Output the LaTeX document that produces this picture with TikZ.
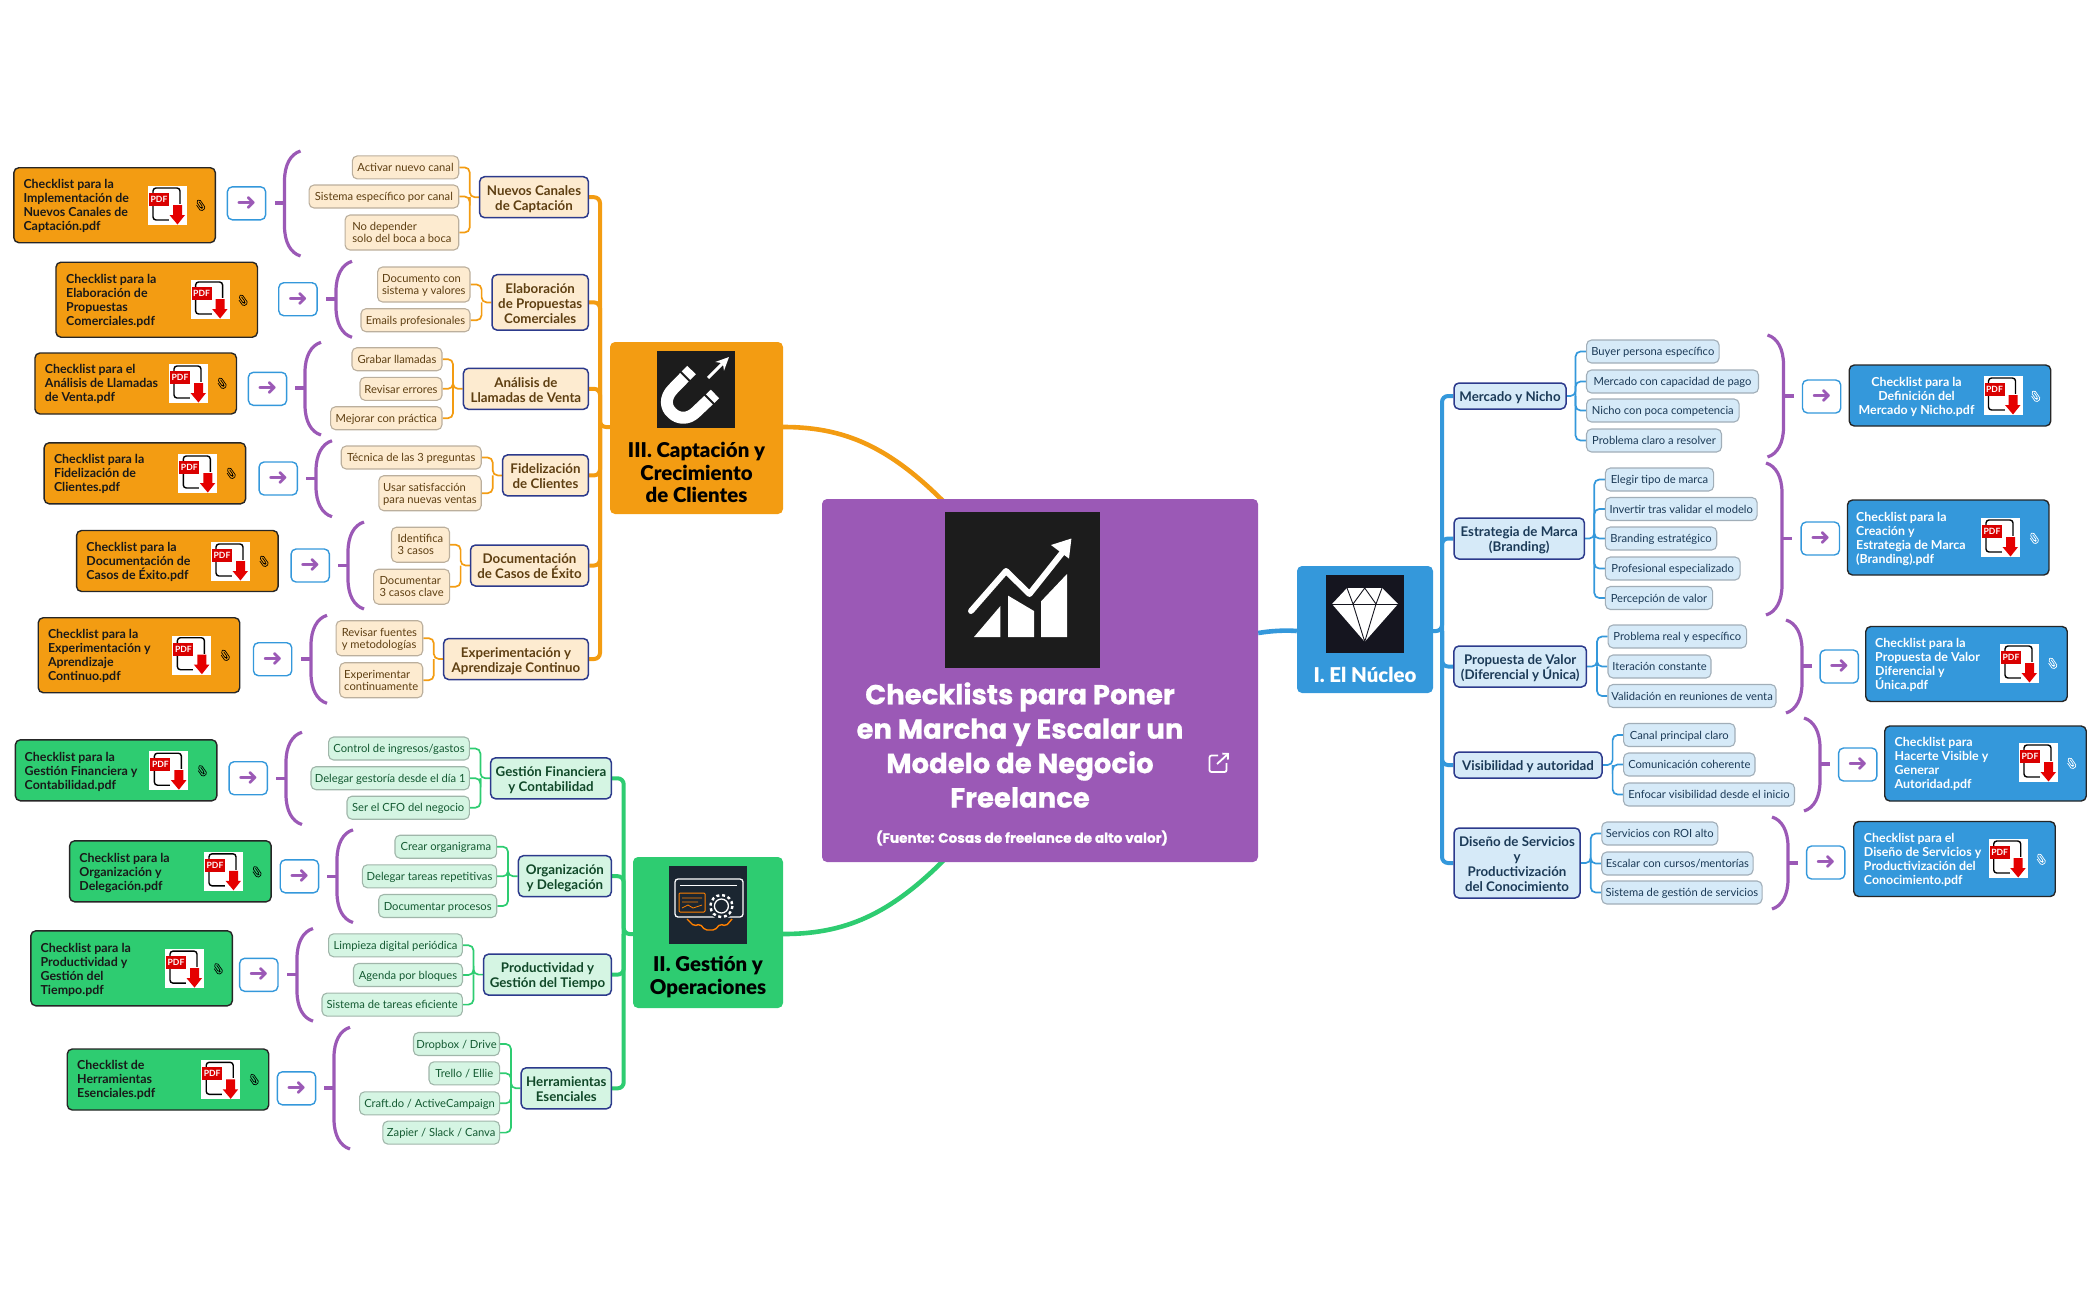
\documentclass[tikz,border=0pt]{standalone}
\usepackage{fontspec}
\setmainfont{Lato}
\newfontfamily\titlefont{Poppins}[BoldFeatures={FakeBold=0.7}]
\newfontfamily\heavyfont{Lato Black}
\newfontfamily\symfont{DejaVu Sans}
\usetikzlibrary{backgrounds,arrows.meta}
\definecolor{flatorange}{HTML}{F39C12}
\definecolor{flatgreen}{HTML}{2ECC71}
\definecolor{flatblue}{HTML}{3498DB}
\definecolor{flatpurple}{HTML}{9B59B6}
\definecolor{paleorange}{HTML}{FDEBD0}
\definecolor{palegreen}{HTML}{D5F5E3}
\definecolor{paleblue}{HTML}{D6EAF8}
\definecolor{darkicon}{HTML}{1C1C1C}
\definecolor{gearicon}{HTML}{1B2631}
\definecolor{gemicon}{HTML}{15151F}
\definecolor{navyline}{HTML}{2C3A8C}
\definecolor{otext}{HTML}{5E3F12}
\definecolor{gtext}{HTML}{145A32}
\definecolor{btext}{HTML}{1B3A57}
\tikzset{
	x=1pt,y=-1pt,
	leaf/.style={draw,rounded corners=5,line width=1.1,minimum height=23,inner sep=1,align=left,text height=11.5,text depth=3,font=\fontsize{11.2}{12}\selectfont},
	twoline/.style={minimum height=35,text height=23.5},
	oleaf/.style={leaf,fill=paleorange,draw=black!22!paleorange!85!gray,text=otext},
	gleaf/.style={leaf,fill=palegreen,draw=black!22!palegreen!85!gray,text=gtext},
	bleaf/.style={leaf,fill=paleblue,draw=black!22!paleblue!85!gray,text=btext},
	parent/.style={draw=navyline,rounded corners=5,line width=1.5,minimum height=41,inner sep=1,align=center,text height=30,text depth=3.5,font=\fontsize{13.3}{15}\selectfont\bfseries},
	onode/.style={parent,fill=paleorange,text=otext},
	gnode/.style={parent,fill=palegreen,text=gtext!80!black},
	bnode/.style={parent,fill=paleblue,text=btext},
	chkbox/.style={draw=black!85,rounded corners=5,line width=1.4,minimum width=201.5},
	chktext/.style={anchor=west,inner sep=0,align=left,yshift=-1pt,text=black!90,font=\fontsize{12.4}{14}\selectfont\bfseries},
	btn/.style={draw=flatblue,fill=white,rounded corners=5,line width=1.4,minimum width=38.3,minimum height=33,inner sep=0,text=flatpurple,font=\symfont\fontsize{24}{24}\selectfont},
	section/.style={rounded corners=5,inner sep=0},
	sectext/.style={inner sep=0,align=center,font=\heavyfont\fontsize{20.4}{22.6}\selectfont},
	olink/.style={draw=flatorange,line width=1.7,rounded corners=5},
	glink/.style={draw=flatgreen,line width=1.7,rounded corners=5},
	blink/.style={draw=flatblue,line width=1.7,rounded corners=5},
	otrunk/.style={draw=flatorange,line width=4,rounded corners=6},
	gtrunk/.style={draw=flatgreen,line width=4,rounded corners=6},
	btrunk/.style={draw=flatblue,line width=4,rounded corners=6},
	bracemark/.style={draw=flatpurple,line width=3.2},
	pics/pdficon/.style={code={
		\fill[white] (0,0) rectangle (39,39);
		\draw[black,line width=1.4,rounded corners=3] (5,2) -- (32,2) -- (32,34) -- (5,34) -- cycle;
		\fill[red!85!black] (1,7) rectangle (21,20);
		\node[inner sep=0,text=white,font=\fontsize{8.6}{9}\selectfont\bfseries] (-t) at (11,13.5) {PDF};
		\fill[white] (21,18) rectangle (38,39);
		\fill[red!90!black] (25,19) -- (34,19) -- (34,29) -- (37,29) -- (29.5,38.5) -- (21.5,29) -- (25,29) -- cycle;
	}},
	pics/clipmark/.style={code={
		\draw[pic actions,line width=.7,rounded corners=1.6,rotate=35,scale=1.25] (.9,-2.5) -- (.9,3) -- (-.9,3) -- (-.9,-4) -- (2.3,-4) -- (2.3,4.6) -- (-2.3,4.6) -- (-2.3,-1.5);
	}},
}
\newcommand{\bracel}[4]{%
	\draw[bracemark] (#1,#2) .. controls (#1-10,#2+3) and (#1-16,#2+14) .. (#1-16,#2+30) -- (#1-16,#3-30) .. controls (#1-16,#3-14) and (#1-10,#3-3) .. (#1,#3);
	\draw[bracemark] (#1-16,#4) -- (#1-26,#4);}
\newcommand{\bracer}[4]{%
	\draw[bracemark] (#1,#2) .. controls (#1+10,#2+3) and (#1+16,#2+14) .. (#1+16,#2+30) -- (#1+16,#3-30) .. controls (#1+16,#3-14) and (#1+10,#3-3) .. (#1,#3);
	\draw[bracemark] (#1+16,#4) -- (#1+26,#4);}
\begin{document}
\begin{tikzpicture}
	\useasboundingbox (0,0) rectangle (2100,1299);
	% centre
	\node[section,fill=flatpurple,minimum width=436,minimum height=363] (root) at (1040,680.5) {};
	\fill[darkicon] (945,512) rectangle (1100,667.5);
	\draw[white,line width=6,line cap=round,line join=round] (971,611) -- (1006,571) -- (1029.5,594) -- (1062,553);
	\fill[white] (1071.4,538.5) -- (1051,545) -- (1069,558.6) -- cycle;
	\fill[white] (974,637) -- (1000.4,637) -- (1000.4,606) -- cycle;
	\fill[white] (1008,637) -- (1034,637) -- (1034,611) -- (1008,595.6) -- cycle;
	\fill[white] (1041,637) -- (1067,637) -- (1067,574) -- (1041,601.4) -- cycle;
	\node[inner sep=0,align=center,text=white,font=\titlefont\fontsize{27.5}{34.4}\selectfont\bfseries] (title) at (1020,745) {Checklists para Poner\\en Marcha y Escalar un\\Modelo de Negocio\\Freelance};
	\node[inner sep=0,text=white,font=\titlefont\fontsize{13.6}{16}\selectfont\bfseries] (source) at (1022,838) {(Fuente: Cosas de freelance de alto valor)};
	\draw[white,line width=1.8,rounded corners=2] (1218,755.5) -- (1209.5,755.5) -- (1209.5,772) -- (1226.5,772) -- (1226.5,763);
	\draw[white,line width=1.8,-{Straight Barb[length=4,width=8]}] (1217,764) -- (1229,753);
	% section III
	\node[section,fill=flatorange,minimum width=173,minimum height=172] (sec3) at (696.5,428) {};
	\fill[darkicon] (657,350.5) rectangle (735,428);
	\draw[white,line width=12,line join=round] (691.5,370) -- (673,389) .. controls (664,398) and (666,408) .. (672,413) .. controls (678,419) and (688,420) .. (696,412) -- (715,394);
	\draw[darkicon,line width=2] (679.7,371) -- (691.7,383) (703,393) -- (715,405);
	\draw[white,line width=3,-{Stealth[length=13,width=12]}] (708,378) -- (729,357);
	\node[sectext] (sec3t) at (696.5,472.5) {III. Captación y\\Crecimiento\\de Clientes};
	% section II
	\node[section,fill=flatgreen,minimum width=150,minimum height=151] (sec2) at (708,932.5) {};
	\fill[gearicon] (669,866) rectangle (747,944);
	\draw[white,line width=1.3,rounded corners=3] (675,879) rectangle (743,917);
	\draw[white,line width=.9] (680,885) -- (737,885);
	\draw[orange,line width=1,rounded corners=1] (679,893) rectangle (705,912);
	\draw[orange,line width=.8] (682,898) -- (702,898) (682,902) -- (698,902) (682,908) -- (688,905) -- (693,908) -- (702,905);
	\fill[gearicon] (721.4,906) circle (13.5);
	\draw[white,line width=2.4,dash pattern=on 3 off 2.8] (721.4,906) circle (11);
	\draw[white,line width=1.3] (721.4,906) circle (7);
	\draw[orange,line width=1.4,rounded corners=2] (687,919) -- (694,926) -- (700,924) -- (705,930) -- (715,930) -- (720,924) -- (726,926) -- (732,919);
	\node[sectext] (sec2t) at (708,977) {II. Gestión y\\Operaciones};
	% section I
	\node[section,fill=flatblue,minimum width=136,minimum height=127] (sec1) at (1365,629.5) {};
	\fill[gemicon] (1326,575) rectangle (1404,653);
	\fill[white] (1347,588) -- (1382,588) -- (1398,604) -- (1364.7,641.7) -- (1332,604) -- cycle;
	\draw[gemicon,line width=.9] (1332,604.5) -- (1398,604.5) (1347,588) -- (1353,604) -- (1364.7,641.7) -- (1376,604) -- (1382,588) (1353,604) -- (1364.7,588) -- (1376,604);
	\node[sectext,text=white] (sec1t) at (1365,675) {I. El Núcleo};
	% orange group
	\node[onode,minimum width=108.8] (on1) at (534,197.2) {Nuevos Canales\\de Captación};
	\node[onode,minimum width=96.4,minimum height=55.4,text height=45] (on2) at (540.2,302.4) {Elaboración\\de Propuestas\\Comerciales};
	\node[onode,minimum width=125] (on3) at (525.9,388.8) {Análisis de\\Llamadas de Venta};
	\node[onode,minimum width=85.8] (on4) at (545.5,475.4) {Fidelización\\de Clientes};
	\node[onode,minimum width=118] (on5) at (529.5,565.5) {Documentación\\de Casos de Éxito};
	\node[onode,minimum width=144.8] (on6) at (516,659) {Experimentación y\\Aprendizaje Continuo};
	\node[oleaf,minimum width=106.4] (oa1) at (405.5,167.4) {Activar nuevo canal};
	\node[oleaf,minimum width=149.7] (oa2) at (383.9,196.5) {Sistema específico por canal};
	\node[oleaf,twoline,minimum width=113.7] (oa3) at (401.9,232.5) {No depender\\solo del boca a boca};
	\node[oleaf,twoline,minimum width=92.4] (ob1) at (423.8,284.5) {Documento con\\sistema y valores};
	\node[oleaf,minimum width=109] (ob2) at (415.5,320.2) {Emails profesionales};
	\node[oleaf,minimum width=90] (oc1) at (397,359.2) {Grabar llamadas};
	\node[oleaf,minimum width=82] (oc2) at (401,388.8) {Revisar errores};
	\node[oleaf,minimum width=111.4] (oc3) at (386.3,418.2) {Mejorar con práctica};
	\node[oleaf,minimum width=140] (od1) at (411.2,457.5) {Técnica de las 3 preguntas};
	\node[oleaf,twoline,minimum width=102.4] (od2) at (430,493.2) {Usar satisfacción\\para nuevas ventas};
	\node[oleaf,twoline,minimum width=58] (oe1) at (420.5,544.7) {Identifica\\3 casos};
	\node[oleaf,twoline,minimum width=76] (oe2) at (411.6,586.7) {Documentar\\3 casos clave};
	\node[oleaf,twoline,minimum width=86.7] (of1) at (379.4,638.2) {Revisar fuentes\\y metodologías};
	\node[oleaf,twoline,minimum width=83] (of2) at (381.2,680.2) {Experimentar\\continuamente};
	\coordinate (obus1) at (469.7,197.2);
	\coordinate (obus2) at (481.6,302.4);
	\coordinate (obus3) at (453,388.8);
	\coordinate (obus4) at (492.7,475.4);
	\coordinate (obus5) at (460.6,565.5);
	\coordinate (obus6) at (433.8,659);
	\coordinate (otr) at (600,427);
	\bracel{300.5}{151}{256}{203}
	\bracel{352}{261.3}{337.3}{299}
	\bracel{321}{342.3}{435}{388}
	\bracel{332}{440.7}{516.7}{478.3}
	\bracel{364}{522}{609}{565.7}
	\bracel{327}{615.3}{703.3}{659}
	\node[btn] (obtn1) at (246.5,203.3) {➜};
	\node[btn] (obtn2) at (297.9,299.2) {➜};
	\node[btn] (obtn3) at (267.5,388.8) {➜};
	\node[btn] (obtn4) at (278.2,478.5) {➜};
	\node[btn] (obtn5) at (310.2,565.5) {➜};
	\node[btn] (obtn6) at (272.6,659.2) {➜};
	\node[chkbox,fill=flatorange,minimum height=75] (ochk1) at (114.6,205.2) {};
	\node[chkbox,fill=flatorange,minimum height=75] (ochk2) at (156.7,299.7) {};
	\node[chkbox,fill=flatorange,minimum height=61] (ochk3) at (135.7,383.5) {};
	\node[chkbox,fill=flatorange,minimum height=61] (ochk4) at (144.9,473.3) {};
	\node[chkbox,fill=flatorange,minimum height=61] (ochk5) at (177.3,561) {};
	\node[chkbox,fill=flatorange,minimum height=75] (ochk6) at (139,655.2) {};
	\node[chktext] (otx1) at (23.3,205) {Checklist para la\\Implementación de\\Nuevos Canales de\\Captación.pdf};
	\node[chktext] (otx2) at (66,300) {Checklist para la\\Elaboración de\\Propuestas\\Comerciales.pdf};
	\node[chktext] (otx3) at (44.7,383) {Checklist para el\\Análisis de Llamadas\\de Venta.pdf};
	\node[chktext] (otx4) at (53.8,473) {Checklist para la\\Fidelización de\\Clientes.pdf};
	\node[chktext] (otx5) at (86.2,561.3) {Checklist para la\\Documentación de\\Casos de Éxito.pdf};
	\node[chktext] (otx6) at (47.8,655.3) {Checklist para la\\Experimentación y\\Aprendizaje\\Continuo.pdf};
	\pic (oi1) at (148,186) {pdficon};
	\pic (oi2) at (190.6,280) {pdficon};
	\pic (oi3) at (169,364) {pdficon};
	\pic (oi4) at (178.3,454) {pdficon};
	\pic (oi5) at (211,542) {pdficon};
	\pic (oi6) at (172.4,635.7) {pdficon};
	\pic at (200,205) {clipmark};
	\pic at (242.4,300) {clipmark};
	\pic at (221.4,383) {clipmark};
	\pic at (230.5,473) {clipmark};
	\pic at (263.3,561) {clipmark};
	\pic at (224.6,655) {clipmark};
	% green group
	\node[gnode,minimum width=120.8] (gn1) at (551,778.3) {Gestión Financiera\\y Contabilidad};
	\node[gnode,minimum width=93] (gn2) at (564.9,876.2) {Organización\\y Delegación};
	\node[gnode,minimum width=127.7] (gn3) at (547.5,974.6) {Productividad y\\Gestión del Tiempo};
	\node[gnode,minimum width=90.2] (gn4) at (566.3,1088.3) {Herramientas\\Esenciales};
	\node[gleaf,minimum width=140.8] (ga1) at (399,748.5) {Control de ingresos/gastos};
	\node[gleaf,minimum width=158.4] (ga2) at (390.2,778.2) {Delegar gestoría desde el día 1};
	\node[gleaf,minimum width=122.4] (ga3) at (408.2,807.7) {Ser el CFO del negocio};
	\node[gleaf,minimum width=101.7] (gb1) at (445.8,846.7) {Crear organigrama};
	\node[gleaf,minimum width=134.3] (gb2) at (429.5,876.3) {Delegar tareas repetitivas};
	\node[gleaf,minimum width=118] (gb3) at (437.7,906) {Documentar procesos};
	\node[gleaf,minimum width=133.8] (gc1) at (395.5,945.3) {Limpieza digital periódica};
	\node[gleaf,minimum width=109] (gc2) at (408,975) {Agenda por bloques};
	\node[gleaf,minimum width=140.4] (gc3) at (392.2,1004.6) {Sistema de tareas eficiente};
	\node[gleaf,minimum width=86] (gd1) at (456.5,1044) {Dropbox / Drive};
	\node[gleaf,minimum width=70.6] (gd2) at (464.3,1073.3) {Trello / Ellie};
	\node[gleaf,minimum width=140] (gd3) at (429.6,1103.3) {Craft.do / ActiveCampaign};
	\node[gleaf,minimum width=116.7] (gd4) at (441.2,1132.6) {Zapier / Slack / Canva};
	\coordinate (gbus1) at (480.4,778.3);
	\coordinate (gbus2) at (508,876.2);
	\coordinate (gbus3) at (473.5,974.6);
	\coordinate (gbus4) at (511,1088.3);
	\coordinate (gtr) at (623.7,934);
	\bracel{302}{732.2}{824.5}{778.2}
	\bracel{353}{829.8}{922.5}{876.2}
	\bracel{313}{928.5}{1021.1}{974.5}
	\bracel{350}{1027.3}{1149}{1088}
	\node[btn] (gbtn1) at (248.2,778.2) {➜};
	\node[btn] (gbtn2) at (299.4,876.3) {➜};
	\node[btn] (gbtn3) at (258.8,974.8) {➜};
	\node[btn] (gbtn4) at (296.5,1088.3) {➜};
	\node[chkbox,fill=flatgreen,minimum height=61] (gchk1) at (116.1,770.3) {};
	\node[chkbox,fill=flatgreen,minimum height=61] (gchk2) at (170.4,871.3) {};
	\node[chkbox,fill=flatgreen,minimum height=75] (gchk3) at (131.6,968.3) {};
	\node[chkbox,fill=flatgreen,minimum height=61] (gchk4) at (168,1079.5) {};
	\node[chktext] (gtx1) at (24.5,770.5) {Checklist para la\\Gestión Financiera y\\Contabilidad.pdf};
	\node[chktext] (gtx2) at (79.2,871.5) {Checklist para la\\Organización y\\Delegación.pdf};
	\node[chktext] (gtx3) at (40.4,968.5) {Checklist para la\\Productividad y\\Gestión del\\Tiempo.pdf};
	\node[chktext] (gtx4) at (77,1079.3) {Checklist de\\Herramientas\\Esenciales.pdf};
	\pic (gi1) at (149.4,751.2) {pdficon};
	\pic (gi2) at (204,851.8) {pdficon};
	\pic (gi3) at (165,949.1) {pdficon};
	\pic (gi4) at (201.2,1060.3) {pdficon};
	\pic at (201.6,770.5) {clipmark};
	\pic at (256.3,871.5) {clipmark};
	\pic at (217.6,968.5) {clipmark};
	\pic at (253.5,1079.3) {clipmark};
	% blue group
	\node[bnode,minimum width=112,minimum height=26,text height=15] (bn1) at (1510,396) {Mercado y Nicho};
	\node[bnode,minimum width=130.4] (bn2) at (1519.2,538.5) {Estrategia de Marca\\(Branding)};
	\node[bnode,minimum width=132.5] (bn3) at (1520.2,666.5) {Propuesta de Valor\\(Diferencial y Única)};
	\node[bnode,minimum width=148,minimum height=26,text height=15] (bn4) at (1528,765) {Visibilidad y autoridad};
	\node[bnode,minimum width=126,minimum height=70,text height=60] (bn5) at (1517,863) {Diseño de Servicios\\y\\Productivización\\del Conocimiento};
	\node[bleaf,minimum width=132.5] (ba1) at (1652.8,351.5) {Buyer persona específico};
	\node[bleaf,minimum width=172] (ba2) at (1672.5,381.5) {Mercado con capacidad de pago};
	\node[bleaf,minimum width=152.5] (ba3) at (1662.8,410.5) {Nicho con poca competencia};
	\node[bleaf,minimum width=135] (ba4) at (1654,440.5) {Problema claro a resolver};
	\node[bleaf,minimum width=108.3] (bb1) at (1659.5,479.5) {Elegir tipo de marca};
	\node[bleaf,minimum width=151.7] (bb2) at (1681.2,509) {Invertir tras validar el modelo};
	\node[bleaf,minimum width=111.4] (bb3) at (1661,538.5) {Branding estratégico};
	\node[bleaf,minimum width=134.7] (bb4) at (1672.7,568.5) {Profesional especializado};
	\node[bleaf,minimum width=107.2] (bb5) at (1659,598) {Percepción de valor};
	\node[bleaf,minimum width=138.5] (bc1) at (1677.3,636.5) {Problema real y específico};
	\node[bleaf,minimum width=103] (bc2) at (1659.5,666.5) {Iteración constante};
	\node[bleaf,minimum width=168] (bc3) at (1692,696) {Validación en reuniones de venta};
	\node[bleaf,minimum width=111.4] (bd1) at (1679.3,735) {Canal principal claro};
	\node[bleaf,minimum width=131.4] (bd2) at (1689.3,764.5) {Comunicación coherente};
	\node[bleaf,minimum width=171] (bd3) at (1709,794.5) {Enfocar visibilidad desde el inicio};
	\node[bleaf,minimum width=116] (be1) at (1659.8,833.5) {Servicios con ROI alto};
	\node[bleaf,minimum width=151.3] (be2) at (1677.4,863.5) {Escalar con cursos/mentorías};
	\node[bleaf,minimum width=160.3] (be3) at (1681.9,892.5) {Sistema de gestión de servicios};
	\coordinate (bbus1) at (1575.5,396);
	\coordinate (bbus2) at (1594.3,538.5);
	\coordinate (bbus3) at (1597,666.5);
	\coordinate (bbus4) at (1612.6,765);
	\coordinate (bbus5) at (1590.7,863);
	\coordinate (btr) at (1442,631);
	\bracer{1767.5}{335}{457}{396}
	\bracer{1766}{463}{615}{538.7}
	\bracer{1786}{620}{713}{666}
	\bracer{1804}{718}{811}{764}
	\bracer{1772}{817}{909}{863}
	\node[btn] (bbtn1) at (1821.6,396.5) {➜};
	\node[btn] (bbtn2) at (1820.3,538.5) {➜};
	\node[btn] (bbtn3) at (1839.2,666.5) {➜};
	\node[btn] (bbtn4) at (1857.7,764.5) {➜};
	\node[btn] (bbtn5) at (1825.7,862.5) {➜};
	\node[chkbox,fill=flatblue,minimum height=61] (bchk1) at (1950,395.5) {};
	\node[chkbox,fill=flatblue,minimum height=75] (bchk2) at (1948.2,537.5) {};
	\node[chkbox,fill=flatblue,minimum height=75] (bchk3) at (1966.5,664) {};
	\node[chkbox,fill=flatblue,minimum height=75] (bchk4) at (1985.5,763.5) {};
	\node[chkbox,fill=flatblue,minimum height=75] (bchk5) at (1954.5,859) {};
	\node[chktext,text=white,align=center,anchor=center] (btx1) at (1916.5,395.5) {Checklist para la\\Definición del\\Mercado y Nicho.pdf};
	\node[chktext,text=white] (btx2) at (1856,538) {Checklist para la\\Creación y\\Estrategia de Marca\\(Branding).pdf};
	\node[chktext,text=white] (btx3) at (1875,664) {Checklist para la\\Propuesta de Valor\\Diferencial y\\Única.pdf};
	\node[chktext,text=white] (btx4) at (1894.5,763) {Checklist para\\Hacerte Visible y\\Generar\\Autoridad.pdf};
	\node[chktext,text=white] (btx5) at (1863.7,859) {Checklist para el\\Diseño de Servicios y\\Productivización del\\Conocimiento.pdf};
	\pic (bi1) at (1983.5,376) {pdficon};
	\pic (bi2) at (1981,518) {pdficon};
	\pic (bi3) at (2000,644) {pdficon};
	\pic (bi4) at (2019,743) {pdficon};
	\pic (bi5) at (1988.7,839) {pdficon};
	\pic[white] at (2035,396) {clipmark};
	\pic[white] at (2033.6,538) {clipmark};
	\pic[white] at (2052,663) {clipmark};
	\pic[white] at (2071,763) {clipmark};
	\pic[white] at (2040.5,859) {clipmark};
	% connectors
	\begin{scope}[on background layer]
		\coordinate (r3) at (970,530);
		\coordinate (r2) at (970,832);
		\draw[otrunk,line width=4.6] (sec3.east |- otr) .. controls (850,427) and (900,450) .. (r3);
		\draw[gtrunk,line width=4.6] (sec2.east |- gtr) .. controls (850,934) and (900,912) .. (r2);
		\draw[btrunk,line width=4.6] (root.east |- 0,633) .. controls (1270,631) and (1285,630) .. (sec1.west |- btr);
		\draw[otrunk] (on1.east) -| (otr) -- (sec3.west |- otr);
		\draw[otrunk] (on2.east) -| (otr);
		\draw[otrunk] (on3.east) -| (otr);
		\draw[otrunk] (on4.east) -| (otr);
		\draw[otrunk] (on5.east) -| (otr);
		\draw[otrunk] (on6.east) -| (otr);
		\draw[gtrunk] (gn1.east) -| (gtr) -- (sec2.west |- gtr);
		\draw[gtrunk] (gn2.east) -| (gtr);
		\draw[gtrunk] (gn3.east) -| (gtr);
		\draw[gtrunk] (gn4.east) -| (gtr);
		\draw[btrunk] (bn1.west) -| (btr) -- (sec1.east |- btr);
		\draw[btrunk] (bn2.west) -| (btr);
		\draw[btrunk] (bn3.west) -| (btr);
		\draw[btrunk] (bn4.west) -| (btr);
		\draw[btrunk] (bn5.west) -| (btr);
		\draw[olink] (oa1.east) -| (obus1) -- (on1.west);
		\draw[olink] (oa2.east) -| (obus1);
		\draw[olink] (oa3.east) -| (obus1);
		\draw[olink] (ob1.east) -| (obus2) -- (on2.west);
		\draw[olink] (ob2.east) -| (obus2);
		\draw[olink] (oc1.east) -| (obus3) -- (on3.west);
		\draw[olink] (oc2.east) -| (obus3);
		\draw[olink] (oc3.east) -| (obus3);
		\draw[olink] (od1.east) -| (obus4) -- (on4.west);
		\draw[olink] (od2.east) -| (obus4);
		\draw[olink] (oe1.east) -| (obus5) -- (on5.west);
		\draw[olink] (oe2.east) -| (obus5);
		\draw[olink] (of1.east) -| (obus6) -- (on6.west);
		\draw[olink] (of2.east) -| (obus6);
		\draw[glink] (ga1.east) -| (gbus1) -- (gn1.west);
		\draw[glink] (ga2.east) -| (gbus1);
		\draw[glink] (ga3.east) -| (gbus1);
		\draw[glink] (gb1.east) -| (gbus2) -- (gn2.west);
		\draw[glink] (gb2.east) -| (gbus2);
		\draw[glink] (gb3.east) -| (gbus2);
		\draw[glink] (gc1.east) -| (gbus3) -- (gn3.west);
		\draw[glink] (gc2.east) -| (gbus3);
		\draw[glink] (gc3.east) -| (gbus3);
		\draw[glink] (gd1.east) -| (gbus4) -- (gn4.west);
		\draw[glink] (gd2.east) -| (gbus4);
		\draw[glink] (gd3.east) -| (gbus4);
		\draw[glink] (gd4.east) -| (gbus4);
		\draw[blink] (ba1.west) -| (bbus1) -- (bn1.east);
		\draw[blink] (ba2.west) -| (bbus1);
		\draw[blink] (ba3.west) -| (bbus1);
		\draw[blink] (ba4.west) -| (bbus1);
		\draw[blink] (bb1.west) -| (bbus2) -- (bn2.east);
		\draw[blink] (bb2.west) -| (bbus2);
		\draw[blink] (bb3.west) -| (bbus2);
		\draw[blink] (bb4.west) -| (bbus2);
		\draw[blink] (bb5.west) -| (bbus2);
		\draw[blink] (bc1.west) -| (bbus3) -- (bn3.east);
		\draw[blink] (bc2.west) -| (bbus3);
		\draw[blink] (bc3.west) -| (bbus3);
		\draw[blink] (bd1.west) -| (bbus4) -- (bn4.east);
		\draw[blink] (bd2.west) -| (bbus4);
		\draw[blink] (bd3.west) -| (bbus4);
		\draw[blink] (be1.west) -| (bbus5) -- (bn5.east);
		\draw[blink] (be2.west) -| (bbus5);
		\draw[blink] (be3.west) -| (bbus5);
	\end{scope}
\end{tikzpicture}
\end{document}
